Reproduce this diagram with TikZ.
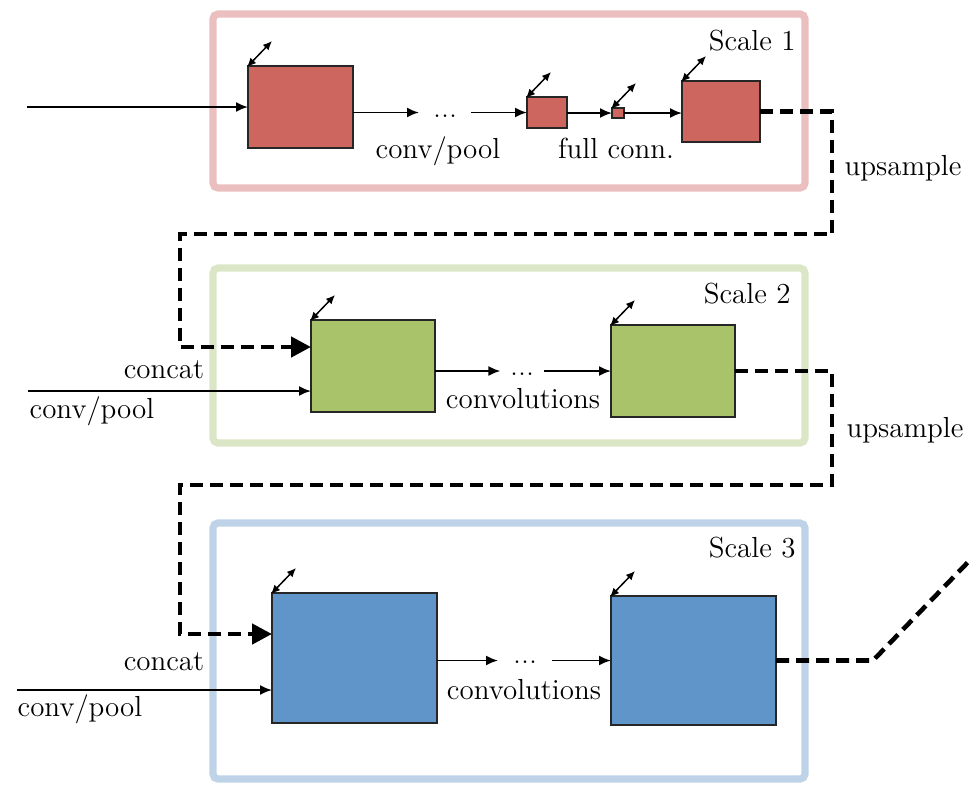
\documentclass[tikz,border=0pt]{standalone}
\usetikzlibrary{arrows.meta,calc}
\definecolor{redfill}{HTML}{CD665F}
\definecolor{greenfill}{HTML}{A9C36A}
\definecolor{bluefill}{HTML}{5F95C8}
\definecolor{redframe}{HTML}{EBBFBF}
\definecolor{greenframe}{HTML}{DBE6C6}
\definecolor{blueframe}{HTML}{BED3E8}
\newcommand{\threedots}{{\fontsize{16}{16}\selectfont ...}}
\begin{document}
\begin{tikzpicture}[x=0.5pt,y=-0.5pt,
  font=\fontsize{14.5}{17}\selectfont,
  frame/.style={line width=3.6pt, rounded corners=2.5pt},
  layer/.style={draw=black!85, line width=0.75pt, anchor=north west,
    inner sep=0pt, outer sep=0pt},
  sz/.style 2 args={minimum width=#1*0.5pt, minimum height=#2*0.5pt},
  arr/.style={line width=0.95pt, -{Latex[length=6pt,width=5pt]}},
  dbl/.style={line width=0.75pt, {Latex[length=4.5pt,width=4pt]}-{Latex[length=4.5pt,width=4pt]}},
  upline/.style={line width=2.3pt, dash pattern=on 6.5pt off 3.5pt},
  bigtip/.style={-{Triangle[length=10pt,width=10pt]}},
  dotsnode/.style={inner ysep=0pt, inner xsep=#1},
  lbl/.style={anchor=base, inner sep=0pt}]
\useasboundingbox (0,0) rectangle (969,784);

% scale frames
\draw[frame, redframe]   (213,14)  rectangle (805,188);
\draw[frame, greenframe] (213,268) rectangle (805,443);
\draw[frame, blueframe]  (213,523) rectangle (805,779);

% ---------- Scale 1 ----------
\node[layer, sz={105}{82}, fill=redfill] (a1) at (248,66) {};
\node[layer, sz={40}{31},  fill=redfill] (b1) at (527,97) {};
\node[layer, sz={12}{10},  fill=redfill] (c1) at (612,108) {};
\node[layer, sz={78}{61},  fill=redfill] (d1) at (682,81) {};
\node[dotsnode=6.8pt] (dt1) at (445,116) {\threedots};
\coordinate (in1) at (27,107);

\draw[arr] (in1) -- (a1.west);
\draw[arr] (a1.east |- b1) -- (dt1.west |- b1);
\draw[arr] (dt1.east |- b1) -- (b1.west);
\draw[arr] (b1.east |- c1) -- (c1.west);
\draw[arr] (c1.east) -- (c1 -| d1.west);

\node[lbl] (cp1) at (438,158) {conv/pool};
\node[lbl] (fc1) at (616,158) {full conn.};
\node[lbl, anchor=base east] (s1) at (796,50) {Scale 1};
\node[lbl] (up1) at (903,175) {upsample};

% ---------- Scale 2 ----------
\node[layer, sz={124}{92}, fill=greenfill] (a2) at (311,320) {};
\node[layer, sz={124}{92}, fill=greenfill] (b2) at (611,325) {};
\node[dotsnode=4.6pt] (dt2) at (522,374) {\threedots};
\coordinate (in2) at (28,391);

\draw[arr] (in2) -- ([yshift=-12.5pt]a2.west);
\draw[arr] (a2.east |- b2) -- (dt2.west |- b2);
\draw[arr] (dt2.east |- b2) -- (b2.west);

\node[lbl] (cc2) at (164,378) {concat};
\node[lbl] (cp2) at (92,418) {conv/pool};
\node[lbl] (cv2) at (523,408) {convolutions};
\node[lbl, anchor=base east] (s2) at (791,303) {Scale 2};
\node[lbl] (up2) at (905,437) {upsample};

% ---------- Scale 3 ----------
\node[layer, sz={165}{130}, fill=bluefill] (a3) at (272,593) {};
\node[layer, sz={165}{129}, fill=bluefill] (b3) at (611,596) {};
\node[dotsnode=7.3pt] (dt3) at (525,662) {\threedots};
\coordinate (in3) at (17,690);
\coordinate (out3) at (1000,529);

\draw[arr] (in3) -- ([yshift=-16pt]a3.west);
\draw[arr] (a3.east |- b3) -- (dt3.west |- b3);
\draw[arr] (dt3.east |- b3) -- (b3.west);

\node[lbl] (cc3) at (164,670) {concat};
\node[lbl] (cp3) at (80,716) {conv/pool};
\node[lbl] (cv3) at (524,699) {convolutions};
\node[lbl, anchor=base east] (s3) at (796,557) {Scale 3};

% resize arrows at the layer corners
\foreach \n in {a1,b1,c1,d1,a2,b2,a3,b3}
  \draw[dbl] ([shift={(-1,1)}]\n.north west) -- ++(25,-26);

% upsampling paths between the scales
\draw[upline, bigtip] (d1.east) -| (832,234) -- (180,234)
  |- ([yshift=9.5pt]a2.west);
\draw[upline, bigtip] (b2.east) -| (832,485) -- (180,485)
  |- ([yshift=12pt]a3.west);
\draw[upline] (b3.east) -- ++(97,0) -- (out3);
\end{tikzpicture}
\end{document}
